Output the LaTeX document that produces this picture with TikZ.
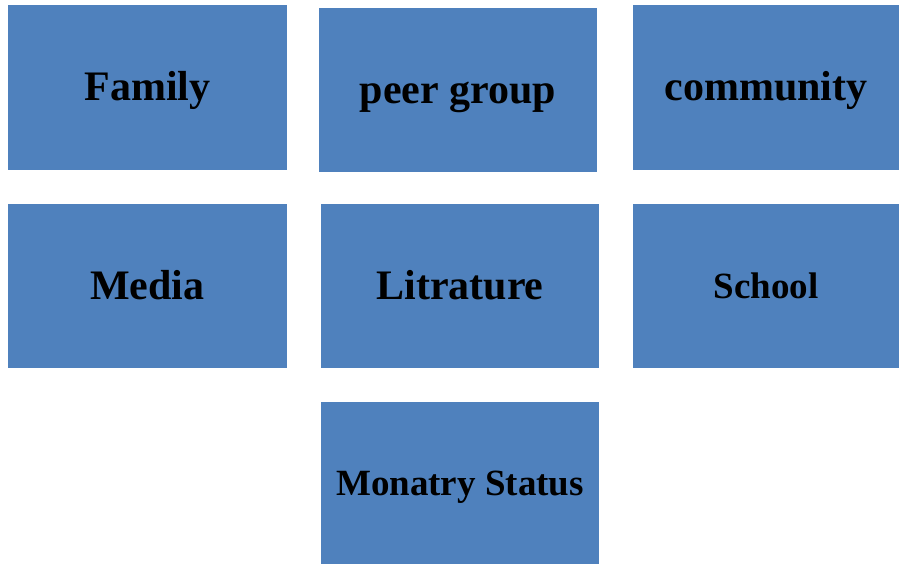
\documentclass[tikz,border=0pt]{standalone}
\usepackage{fontspec}
\setmainfont{Liberation Serif}
\usetikzlibrary{positioning}
\definecolor{boxblue}{HTML}{4F81BD}

\begin{document}
\begin{tikzpicture}
[x=1pt,y=-1pt,
box/.style={shape=rectangle,fill=boxblue,draw=none,inner sep=0pt,
  text height=36pt,text depth=9pt,
  font=\fontsize{42}{48}\selectfont\bfseries},
wide/.style={box,minimum width=279pt,minimum height=165pt},
narrow/.style={box,minimum width=266pt,minimum height=165pt},
small/.style={text height=32pt,text depth=8pt,
  font=\fontsize{37}{42}\selectfont\bfseries}]

\useasboundingbox (0,0) rectangle (899,564);

% first row
\node (family) [wide] at (147.5,87.5) {Family};
\node (peer) [wide,minimum width=278pt,minimum height=164pt] at (458,90) {peer group};
\node (community) [narrow] at (766,87.5) {community};

% second row
\node (media) [wide,minimum height=164pt] at (147.5,286) {Media};
\node (litrature) [wide,minimum width=278pt,minimum height=164pt] at (460,286) {Litrature};
\node (school) [narrow,small,minimum height=164pt] at (766,286) {School};

% third row
\node (monatry) [wide,small,minimum width=278pt,minimum height=162pt] at (460,483) {Monatry Status};
\end{tikzpicture}
\end{document}
